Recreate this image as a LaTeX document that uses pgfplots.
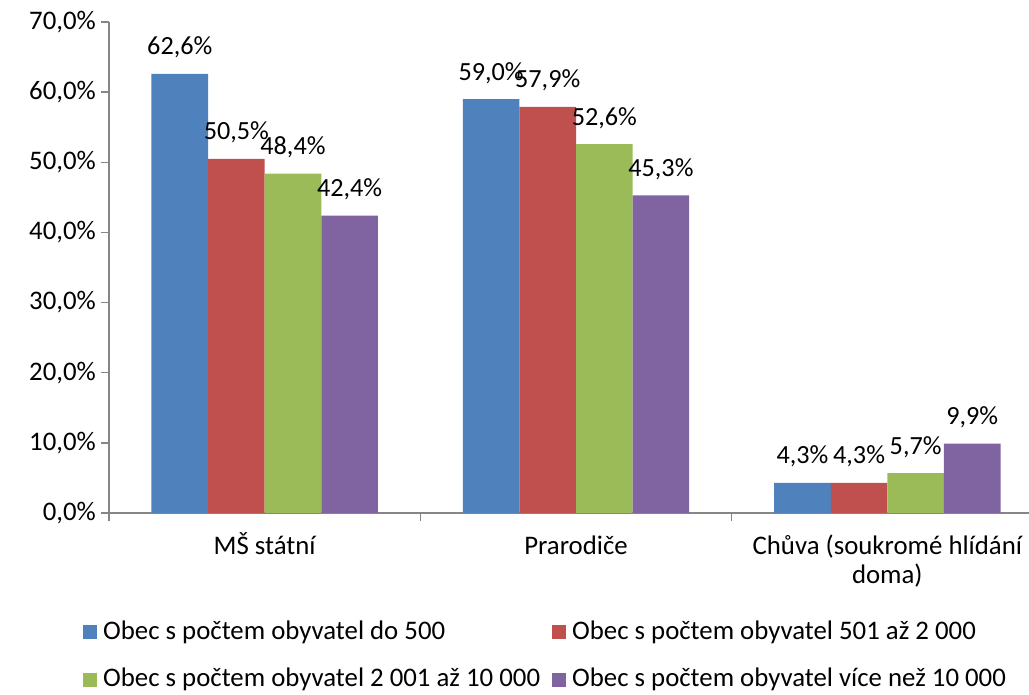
\documentclass[border=0pt]{standalone}
\usepackage{fontspec}
\setmainfont{Carlito}
\usepackage{pgfplots}
\pgfplotsset{compat=1.18}
\definecolor{cA}{RGB}{79,129,189}
\definecolor{cB}{RGB}{192,80,77}
\definecolor{cC}{RGB}{155,187,89}
\definecolor{cD}{RGB}{128,100,162}
\definecolor{axgray}{RGB}{134,134,134}
\begin{document}
\fontsize{26.8}{29}\selectfont
\begin{tikzpicture}[font=\fontsize{26.8}{29}\selectfont]
\path[use as bounding box] (0,0) rectangle (1029pt,695pt);
\begin{axis}[
  at={(109pt,182pt)}, anchor=south west,
  scale only axis, width=920pt, height=491pt,
  xmin=-0.5, xmax=2.455, ymin=0, ymax=70,
  axis x line*=bottom, axis y line*=left,
  axis line style={draw=axgray, line width=1.3pt},
  tick style={draw=axgray, line width=1.3pt},
  tick align=outside, major tick length=8pt,
  /pgf/number format/assume math mode=true,
  ytick={0,10,...,70},
  yticklabel={\pgfmathprintnumber[fixed,fixed zerofill,precision=1,use comma]{\tick}\%},
  yticklabel style={anchor=east, inner sep=0pt, xshift=-5pt},
  xtick={-0.5,0.5,1.5},
  xticklabels={},
  extra x ticks={0,1,2},
  extra x tick labels={MŠ státní, Prarodiče, {\begin{tabular}[t]{@{}c@{}}Chůva (soukromé hlídání\\doma)\end{tabular}}},
  extra x tick style={major tick length=0pt, tick style={draw=none}, xticklabel style={anchor=base, inner sep=0pt, yshift=-42pt}},
  ybar=0pt, bar width=56.6pt,
  clip=false,
  nodes near coords={\pgfmathprintnumber[fixed,fixed zerofill,precision=1,use comma]{\pgfplotspointmeta}\%},
  nodes near coords style={anchor=base, inner sep=0pt, yshift=19pt, text=black, font=\fontsize{26.2}{29}\selectfont},
  legend columns=2,
  legend cell align=left,
  legend image code/.code={\fill[#1] (0pt,-7pt) rectangle (14pt,7pt);},
  legend style={draw=none, fill=none, at={(-0.0283,-0.219)}, anchor=north west,
    inner sep=0pt, row sep=25pt, column sep=6pt,
    /tikz/every even column/.append style={column sep=12pt},
    nodes={inner sep=0pt}},
]
\addplot[fill=cA, draw=none] coordinates {(0,62.6) (1,59.0) (2,4.3)};
\addplot[fill=cB, draw=none] coordinates {(0,50.5) (1,57.9) (2,4.3)};
\addplot[fill=cC, draw=none] coordinates {(0,48.4) (1,52.6) (2,5.7)};
\addplot[fill=cD, draw=none] coordinates {(0,42.4) (1,45.3) (2,9.9)};
\legend{Obec s počtem obyvatel do 500, Obec s počtem obyvatel 501 až 2 000, Obec s počtem obyvatel 2 001 až 10 000, Obec s počtem obyvatel více než 10 000}
\end{axis}
\end{tikzpicture}
\end{document}
